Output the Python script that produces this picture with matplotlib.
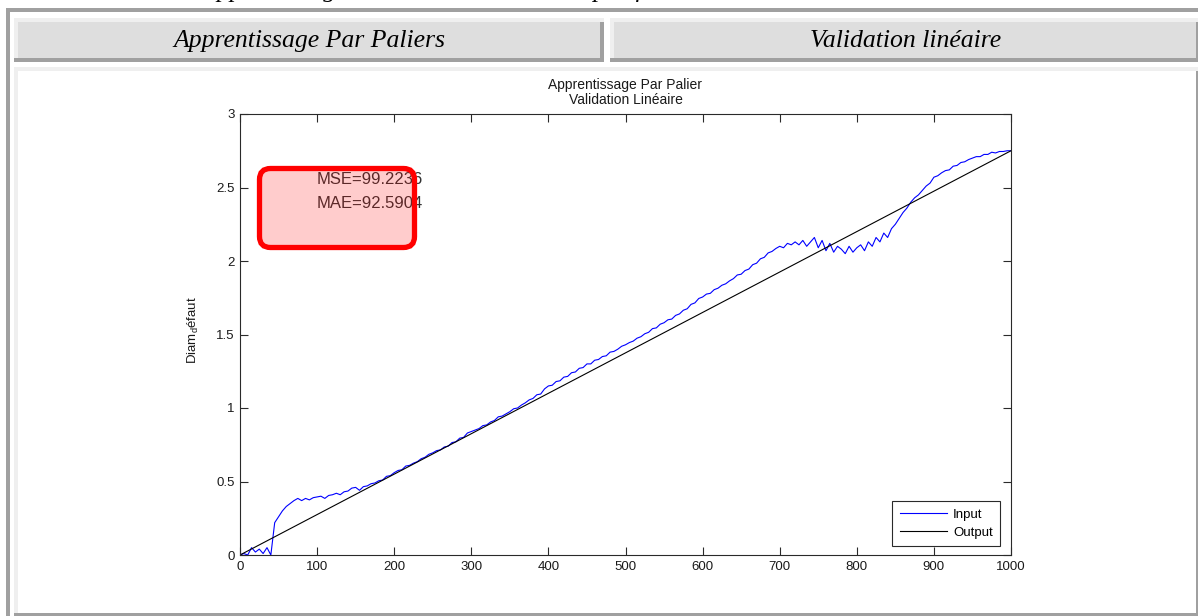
import numpy as np
import matplotlib
matplotlib.use('Agg')
import matplotlib.pyplot as plt
from matplotlib.patches import Rectangle, FancyBboxPatch

plt.rcParams['font.family'] = ['Liberation Sans', 'DejaVu Sans']
plt.rcParams['mathtext.fontset'] = 'custom'
plt.rcParams['mathtext.rm'] = 'Liberation Sans'
plt.rcParams['mathtext.it'] = 'Liberation Sans:italic'

# ---------------- data ----------------
header_left = "Apprentissage Par Paliers"
header_right = "Validation linéaire"
caption = "V-1 L'apprentissage et la validation se sont par fait avec la même base de données"
title_text = "Apprentissage Par Palier\nValidation Linéaire"
ylabel_text = r"Diam$_{\mathrm{d}}$éfaut"
mse_text = "MSE=99.2236"
mae_text = "MAE=92.5904"

input_step = 5
input_values = [
    0.00, 0.01, 0.00, 0.05, 0.02, 0.04, 0.01, 0.05, 0.00, 0.22,
    0.26, 0.30, 0.33, 0.35, 0.37, 0.385, 0.37, 0.385, 0.375, 0.39,
    0.395, 0.40, 0.385, 0.405, 0.41, 0.42, 0.41, 0.43, 0.435, 0.455,
    0.46, 0.44, 0.465, 0.47, 0.485, 0.49, 0.505, 0.51, 0.535, 0.54,
    0.56, 0.575, 0.58, 0.605, 0.61, 0.625, 0.635, 0.655, 0.665, 0.685,
    0.695, 0.71, 0.715, 0.735, 0.74, 0.765, 0.77, 0.795, 0.80, 0.83,
    0.84, 0.85, 0.86, 0.88, 0.885, 0.905, 0.915, 0.94, 0.945, 0.96,
    0.975, 0.995, 1.00, 1.02, 1.035, 1.055, 1.065, 1.09, 1.095, 1.13,
    1.15, 1.155, 1.18, 1.185, 1.21, 1.215, 1.24, 1.245, 1.27, 1.275,
    1.30, 1.30, 1.325, 1.33, 1.35, 1.355, 1.38, 1.385, 1.40, 1.42,
    1.43, 1.445, 1.455, 1.475, 1.485, 1.505, 1.515, 1.54, 1.545, 1.57,
    1.58, 1.60, 1.605, 1.63, 1.64, 1.665, 1.675, 1.705, 1.715, 1.745,
    1.755, 1.775, 1.78, 1.805, 1.815, 1.835, 1.845, 1.865, 1.88, 1.905,
    1.91, 1.935, 1.945, 1.975, 1.985, 2.015, 2.025, 2.055, 2.065, 2.085,
    2.10, 2.09, 2.12, 2.11, 2.13, 2.11, 2.14, 2.10, 2.13, 2.16,
    2.09, 2.14, 2.07, 2.12, 2.06, 2.10, 2.08, 2.05, 2.10, 2.06,
    2.09, 2.11, 2.07, 2.13, 2.10, 2.16, 2.13, 2.19, 2.16, 2.22,
    2.25, 2.29, 2.33, 2.36, 2.40, 2.43, 2.45, 2.48, 2.51, 2.53,
    2.57, 2.58, 2.60, 2.615, 2.62, 2.645, 2.65, 2.67, 2.675, 2.69,
    2.70, 2.71, 2.71, 2.725, 2.725, 2.74, 2.735, 2.745, 2.745, 2.75,
    2.75,
]
output_x = [0, 1000]
output_values = [0.0, 2.75]

xticks = [0, 100, 200, 300, 400, 500, 600, 700, 800, 900, 1000]
yticks = [0, 0.5, 1, 1.5, 2, 2.5, 3]
ytick_labels = ["0", "0.5", "1", "1.5", "2", "2.5", "3"]
legend_labels = ["Input", "Output"]

# ---------------- figure ----------------
W, H = 1198, 616
fig = plt.figure(figsize=(W / 100, H / 100), dpi=100)
fig.patch.set_facecolor('white')

bg = fig.add_axes([0, 0, 1, 1], zorder=0)
bg.set_xlim(0, W)
bg.set_ylim(H, 0)
bg.axis('off')

GRAY = '#a0a0a0'
LIGHT = '#efefef'
FILL = '#dedede'


def rect(x0, y0, x1, y1, c):
    bg.add_patch(Rectangle((x0, y0), x1 - x0, y1 - y0, facecolor=c,
                           edgecolor='none', linewidth=0))


# outer frame
rect(6, 8, W, 12, GRAY)
rect(6, 8, 10, H, GRAY)
# header cells
rect(14, 18, 604, 62, LIGHT)
rect(18, 22, 600, 58, FILL)
rect(14, 58, 604, 62, GRAY)
rect(600, 22, 604, 62, GRAY)
rect(610, 18, W, 62, LIGHT)
rect(614, 22, 1196, 58, FILL)
rect(610, 58, W, 62, GRAY)
rect(1196, 22, W, 62, GRAY)
# plot cell
rect(14, 67, W, H, LIGHT)
rect(18, 71, 1196, 613, 'white')
rect(14, 613, W, H, GRAY)
rect(1196, 71, W, H, GRAY)

serif = dict(family=['Liberation Serif', 'DejaVu Serif'], style='italic')
bg.text(309, 41, header_left, ha='center', va='center', fontsize=18.5, **serif)
bg.text(906, 41, header_right, ha='center', va='center', fontsize=18.5, **serif)
# caption of the document page, cut by the top edge as in the screenshot
bg.text(142, -2.5, caption, ha='left', va='baseline', fontsize=18.5, clip_on=True, **serif)

# main axes
ax = fig.add_axes([240 / W, (H - 555) / H, 771 / W, 441 / H], zorder=2)
x_in = np.arange(len(input_values)) * input_step
ax.plot(x_in, input_values, color='#0000ff', lw=0.8, label=legend_labels[0])
ax.plot(output_x, output_values, color='black', lw=0.8, label=legend_labels[1])
ax.set_xlim(0, 1000)
ax.set_ylim(0, 3)
ax.set_xticks(xticks)
ax.set_xticklabels([str(t) for t in xticks])
ax.set_yticks(yticks)
ax.set_yticklabels(ytick_labels)
for s in ax.spines.values():
    s.set_color('#2a2a2a')
    s.set_linewidth(0.8)
ax.tick_params(direction='in', length=5.5, width=0.8, top=True, right=True,
               labelsize=9.5, colors='#2a2a2a', labelcolor='#1a1a1a')
ax.tick_params(axis='x', pad=4)
ax.tick_params(axis='y', pad=4)
ax.set_title(title_text, fontsize=10, pad=7, color='#1a1a1a', linespacing=1.15)
ax.set_ylabel(ylabel_text, fontsize=9.5, color='#1a1a1a')
ax.yaxis.set_label_coords((201 - 240) / 771, (555 - 330) / 441)

ax.text((317 - 240) / 771, (555 - 179) / 441, mse_text, transform=ax.transAxes,
        ha='left', va='center', fontsize=12, color='#333333')
ax.text((317 - 240) / 771, (555 - 203) / 441, mae_text, transform=ax.transAxes,
        ha='left', va='center', fontsize=12, color='#333333')

leg = ax.legend(loc='lower right', bbox_to_anchor=((1000 - 240) / 771, (555 - 546) / 441),
                borderaxespad=0, fontsize=9.5, fancybox=False, framealpha=1,
                edgecolor='#2a2a2a', handlelength=3.6, handletextpad=0.45,
                borderpad=0.55, labelspacing=0.45)
leg.get_frame().set_linewidth(0.8)

# overlay with the red highlight box
ov = fig.add_axes([0, 0, 1, 1], zorder=5)
ov.set_xlim(0, W)
ov.set_ylim(H, 0)
ov.axis('off')
ov.patch.set_alpha(0)
ov.add_patch(FancyBboxPatch((259.5, 168.5), 155, 79,
                            boxstyle='round,pad=0,rounding_size=11',
                            facecolor=(1, 0, 0, 0.2), edgecolor='#ff0000',
                            linewidth=3.8))

fig.savefig('out.png', dpi=100)
